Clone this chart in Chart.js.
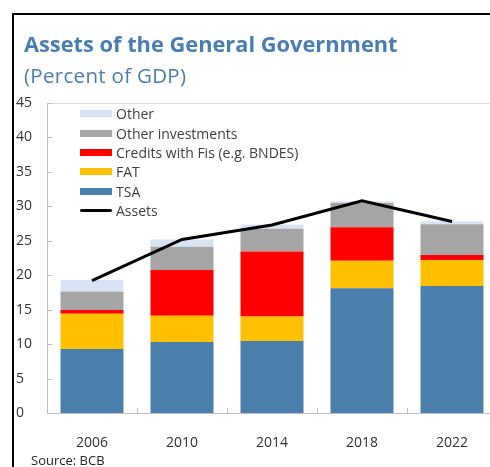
<!DOCTYPE html>
<html>
<head>
<meta charset="utf-8">
<script src="https://cdn.jsdelivr.net/npm/chart.js@4.4.0/dist/chart.umd.min.js"></script>
<style>
  html, body { margin: 0; padding: 0; background: #fff; overflow: hidden; width: 490px; height: 467px; }
  #wrap { position: relative; width: 490px; height: 467px; overflow: hidden; font-family: "Open Sans", "Noto Sans", sans-serif; }
  #frame { position: absolute; left: 12px; top: 13px; width: 480px; height: 460px; border-top: 2px solid #000; border-left: 2px solid #000; }
  #title { position: absolute; left: 24px; top: 29px; font-size: 21.8px; font-weight: bold; color: #4a7eb0; white-space: nowrap; }
  #subtitle { position: absolute; left: 24px; top: 61px; font-size: 20.5px; letter-spacing: 0.3px; color: #4a7eb0; white-space: nowrap; }
  #source { position: absolute; left: 31px; top: 451px; font-size: 13px; color: #262626; white-space: nowrap; }
  #chartBox { position: absolute; left: 0; top: 0; width: 490px; height: 467px; overflow: hidden; }
  #legend { position: absolute; left: 80px; top: 104px; font-size: 14px; color: #404040; }
  .li { position: relative; height: 19.4px; display: flex; align-items: center; white-space: nowrap; }
  .sw { width: 32px; margin-right: 4px; }
  .edge { position: absolute; left: 486px; width: 4px; background: #fff; }
</style>
</head>
<body>
<div id="wrap">
  <div id="chartBox"><canvas id="c" width="510" height="467" style="display:block"></canvas></div>
  <div class="edge" style="top:104px;height:308px"></div>
  <div class="edge" style="top:415px;height:40px"></div>
  <div id="frame"></div>
  <div id="title">Assets of the General Government</div>
  <div id="subtitle">(Percent of GDP)</div>
  <div id="legend"></div>
  <div id="source">Source: BCB</div>
</div>
<script>
const categories = ['2006', '2010', '2014', '2018', '2022'];
const tsa        = [9.3, 10.3, 10.45, 18.1, 18.45];
const fat        = [5.1, 3.8, 3.55, 4.0, 3.75];
const credits    = [0.55, 6.65, 9.45, 4.85, 0.75];
const otherInv   = [2.7, 3.4, 3.3, 3.55, 4.45];
const other      = [1.65, 1.05, 0.6, 0.25, 0.45];
const assets     = [19.2, 25.2, 27.3, 30.8, 27.8];
const yTicks     = [0, 5, 10, 15, 20, 25, 30, 35, 40, 45];

const barOpts = { type: 'bar', stack: 'a', categoryPercentage: 1.0, barPercentage: 0.70, borderWidth: 0, order: 1 };

const datasets = [
  Object.assign({ label: 'TSA', data: tsa, backgroundColor: '#4a7eab' }, barOpts),
  Object.assign({ label: 'FAT', data: fat, backgroundColor: '#ffc000' }, barOpts),
  Object.assign({ label: 'Credits with Fis (e.g. BNDES)', data: credits, backgroundColor: '#ff0000' }, barOpts),
  Object.assign({ label: 'Other investments', data: otherInv, backgroundColor: '#a5a5a5' }, barOpts),
  Object.assign({ label: 'Other', data: other, backgroundColor: '#dae3f3' }, barOpts),
  { type: 'line', label: 'Assets', data: assets, borderColor: '#000', borderWidth: 3, pointRadius: 0, tension: 0, fill: false, order: 0, stack: 'line' }
];

const fontFam = '"Open Sans", "Noto Sans", sans-serif';

// plot frame top line and short inward tick marks, placed through the scales' pixel mapping
const inwardTicks = {
  id: 'inwardTicks',
  beforeDatasetsDraw(chart) {
    const ctx = chart.ctx, ca = chart.chartArea, ys = chart.scales.y;
    const ty = Math.round(ys.getPixelForValue(yTicks[yTicks.length - 1])) + 0.5;
    ctx.save();
    ctx.strokeStyle = '#d9d9d9';
    ctx.lineWidth = 1;
    ctx.beginPath(); ctx.moveTo(ca.left, ty); ctx.lineTo(ca.right, ty); ctx.stroke();
    ctx.restore();
  },
  afterDatasetsDraw(chart) {
    const ctx = chart.ctx, ca = chart.chartArea;
    const xs = chart.scales.x, ys = chart.scales.y;
    ctx.save();
    ctx.strokeStyle = '#bfbfbf';
    ctx.lineWidth = 1;
    ctx.beginPath();
    ys.ticks.forEach(t => {
      const py = Math.round(ys.getPixelForValue(t.value)) + 0.5;
      ctx.moveTo(ca.left, py); ctx.lineTo(ca.left + 5, py);
    });
    const n = xs.ticks.length;
    const step = xs.getPixelForTick(1) - xs.getPixelForTick(0);
    for (let i = 1; i < n; i++) {
      const px = Math.round(xs.getPixelForTick(0) - step / 2 + i * step) + 0.5;
      ctx.moveTo(px, ca.bottom); ctx.lineTo(px, ca.bottom - 5);
    }
    ctx.stroke();
    ctx.restore();
  }
};

const chart = new Chart(document.getElementById('c'), {
  type: 'bar',
  data: { labels: categories, datasets: datasets },
  plugins: [inwardTicks],
  options: {
    responsive: false,
    animation: false,
    devicePixelRatio: 1,
    layout: { padding: { left: 16, top: 103, right: 13, bottom: 0 } },
    plugins: { legend: { display: false }, tooltip: { enabled: false }, title: { display: false } },
    scales: {
      x: {
        stacked: true,
        offset: true,
        grid: { display: false },
        border: { display: true, color: '#bfbfbf', width: 1 },
        ticks: { font: { family: fontFam, size: 14 }, color: '#333', padding: 14, maxRotation: 0 },
        afterFit: s => { s.height = 54; }
      },
      y: {
        stacked: true,
        min: 0, max: 45,
        afterBuildTicks: s => { s.ticks = yTicks.map(v => ({ value: v })); },
        grid: { display: false },
        border: { display: true, color: '#bfbfbf', width: 1 },
        ticks: { font: { family: fontFam, size: 14 }, color: '#333', crossAlign: 'far', padding: 0 },
        afterFit: s => { s.width = 31; }
      }
    }
  }
});

// HTML legend built from the chart's datasets (reverse stacking order, line last)
const legendEl = document.getElementById('legend');
const barSets = chart.data.datasets.filter(d => d.type === 'bar').slice().reverse();
const lineSets = chart.data.datasets.filter(d => d.type === 'line');
barSets.concat(lineSets).forEach(d => {
  const row = document.createElement('div');
  row.className = 'li';
  const sw = document.createElement('div');
  sw.className = 'sw';
  if (d.type === 'line') { sw.style.height = '3px'; sw.style.background = d.borderColor; sw.style.borderRadius = '2px'; }
  else { sw.style.height = '7px'; sw.style.background = d.backgroundColor; }
  const tx = document.createElement('span');
  tx.textContent = d.label;
  row.appendChild(sw); row.appendChild(tx);
  legendEl.appendChild(row);
});
</script>
</body>
</html>
